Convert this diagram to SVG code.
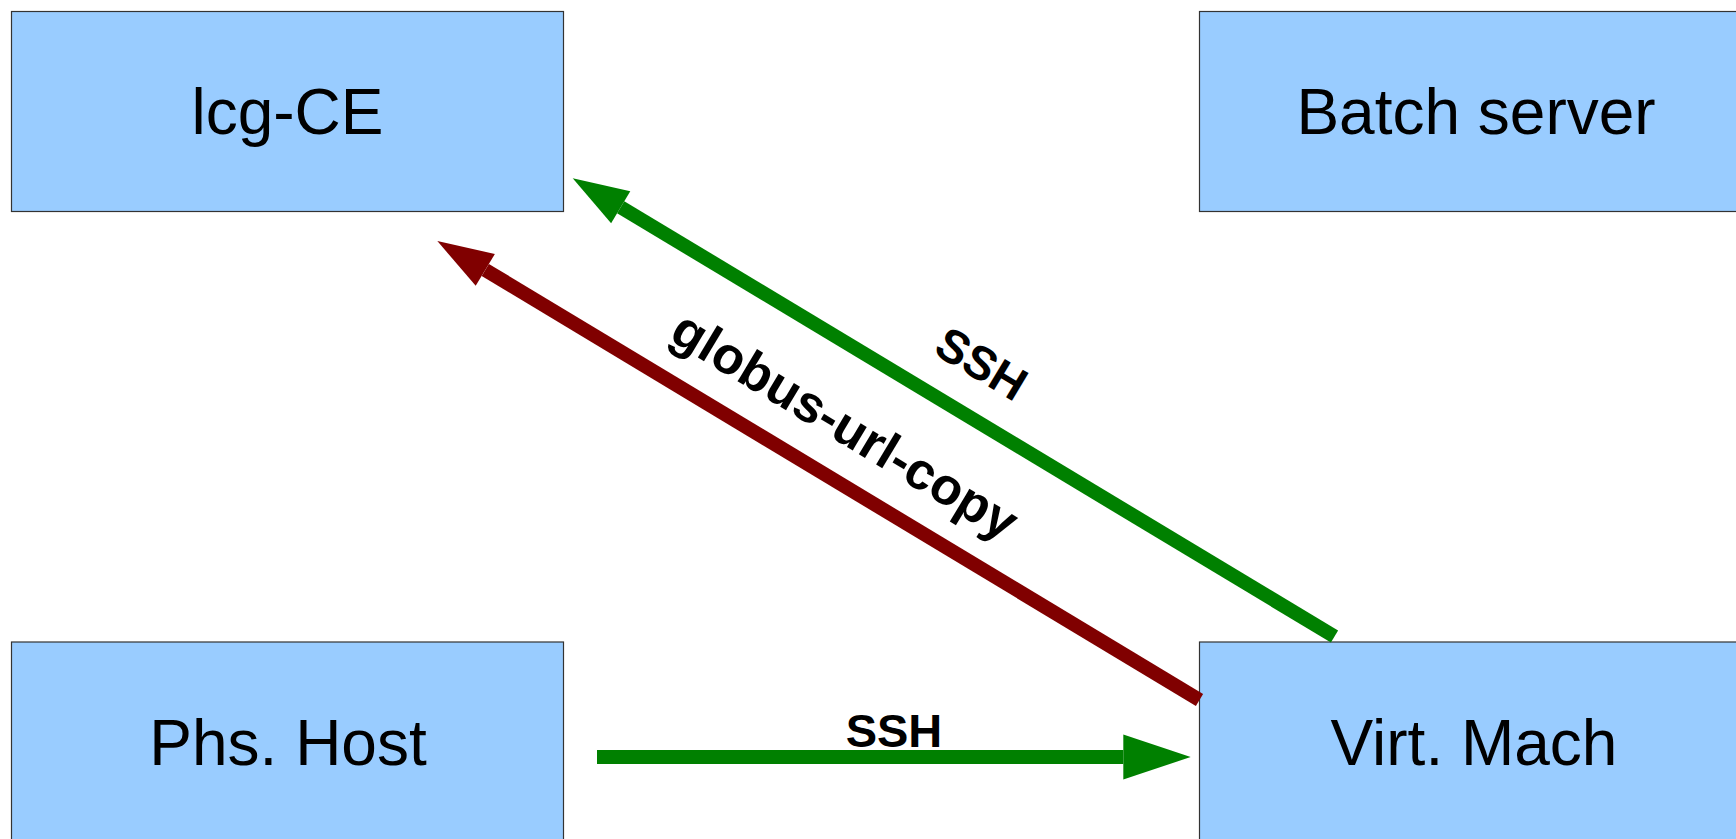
<svg xmlns="http://www.w3.org/2000/svg" width="1736" height="839" viewBox="0 0 1736 839">
  <style>
    .box { fill: #99ccff; stroke: #333333; stroke-width: 1.2; }
    .node-label { font-family: "Liberation Sans", Arial, sans-serif; font-size: 64px; fill: #000000; text-anchor: middle; }
    .edge-label { font-family: "Liberation Sans", Arial, sans-serif; font-size: 47px; font-weight: bold; fill: #000000; text-anchor: middle; }
    .edge-label.long { font-size: 52px; }
    .ssh { stroke: #008000; stroke-width: 14; fill: none; stroke-linecap: butt; }
    .gridftp { stroke: #800000; stroke-width: 14; fill: none; stroke-linecap: butt; }
  </style>
  <defs>
    <marker id="head-green" markerUnits="userSpaceOnUse" markerWidth="56" markerHeight="38" refX="0" refY="18.6" orient="auto" overflow="visible">
      <path d="M0,0 L56,18.6 L0,37.2 Z" fill="#008000"/>
    </marker>
    <marker id="head-red" markerUnits="userSpaceOnUse" markerWidth="56" markerHeight="38" refX="0" refY="18.6" orient="auto" overflow="visible">
      <path d="M0,0 L56,18.6 L0,37.2 Z" fill="#800000"/>
    </marker>
    <marker id="head-green-lg" markerUnits="userSpaceOnUse" markerWidth="68" markerHeight="45" refX="0" refY="22.5" orient="auto" overflow="visible">
      <path d="M0,0 L67.4,22.5 L0,45 Z" fill="#008000"/>
    </marker>
  </defs>

  <rect width="1736" height="839" fill="#ffffff"/>

  <g id="lcg-ce">
    <rect class="box" x="11.5" y="11.5" width="552" height="200"/>
    <text class="node-label" x="287.5" y="134">lcg-CE</text>
  </g>

  <g id="batch-server">
    <rect class="box" x="1199.5" y="11.5" width="552" height="200"/>
    <text class="node-label" x="1476" y="134">Batch server</text>
  </g>

  <g id="phs-host">
    <rect class="box" x="11.5" y="642" width="552" height="200"/>
    <text class="node-label" x="288" y="765">Phs. Host</text>
  </g>

  <g id="virt-mach">
    <rect class="box" x="1199.5" y="642" width="552" height="200"/>
    <text class="node-label" x="1474" y="765">Virt. Mach</text>
  </g>

  <g id="connectors">
    <line class="ssh" x1="1334.5" y1="636.5" x2="620.7" y2="207.2" marker-end="url(#head-green)"/>
    <line class="gridftp" x1="1199.5" y1="700" x2="485.3" y2="269.9" marker-end="url(#head-red)"/>
    <line class="ssh" x1="597" y1="757" x2="1123.3" y2="757" marker-end="url(#head-green-lg)"/>
    <text class="edge-label" transform="translate(973.2,377.6) rotate(31)" x="0" y="0">SSH</text>
    <text class="edge-label long" transform="translate(836,440.5) rotate(31)" x="0" y="0">globus-url-copy</text>
    <text class="edge-label" x="894" y="747">SSH</text>
  </g>
</svg>
